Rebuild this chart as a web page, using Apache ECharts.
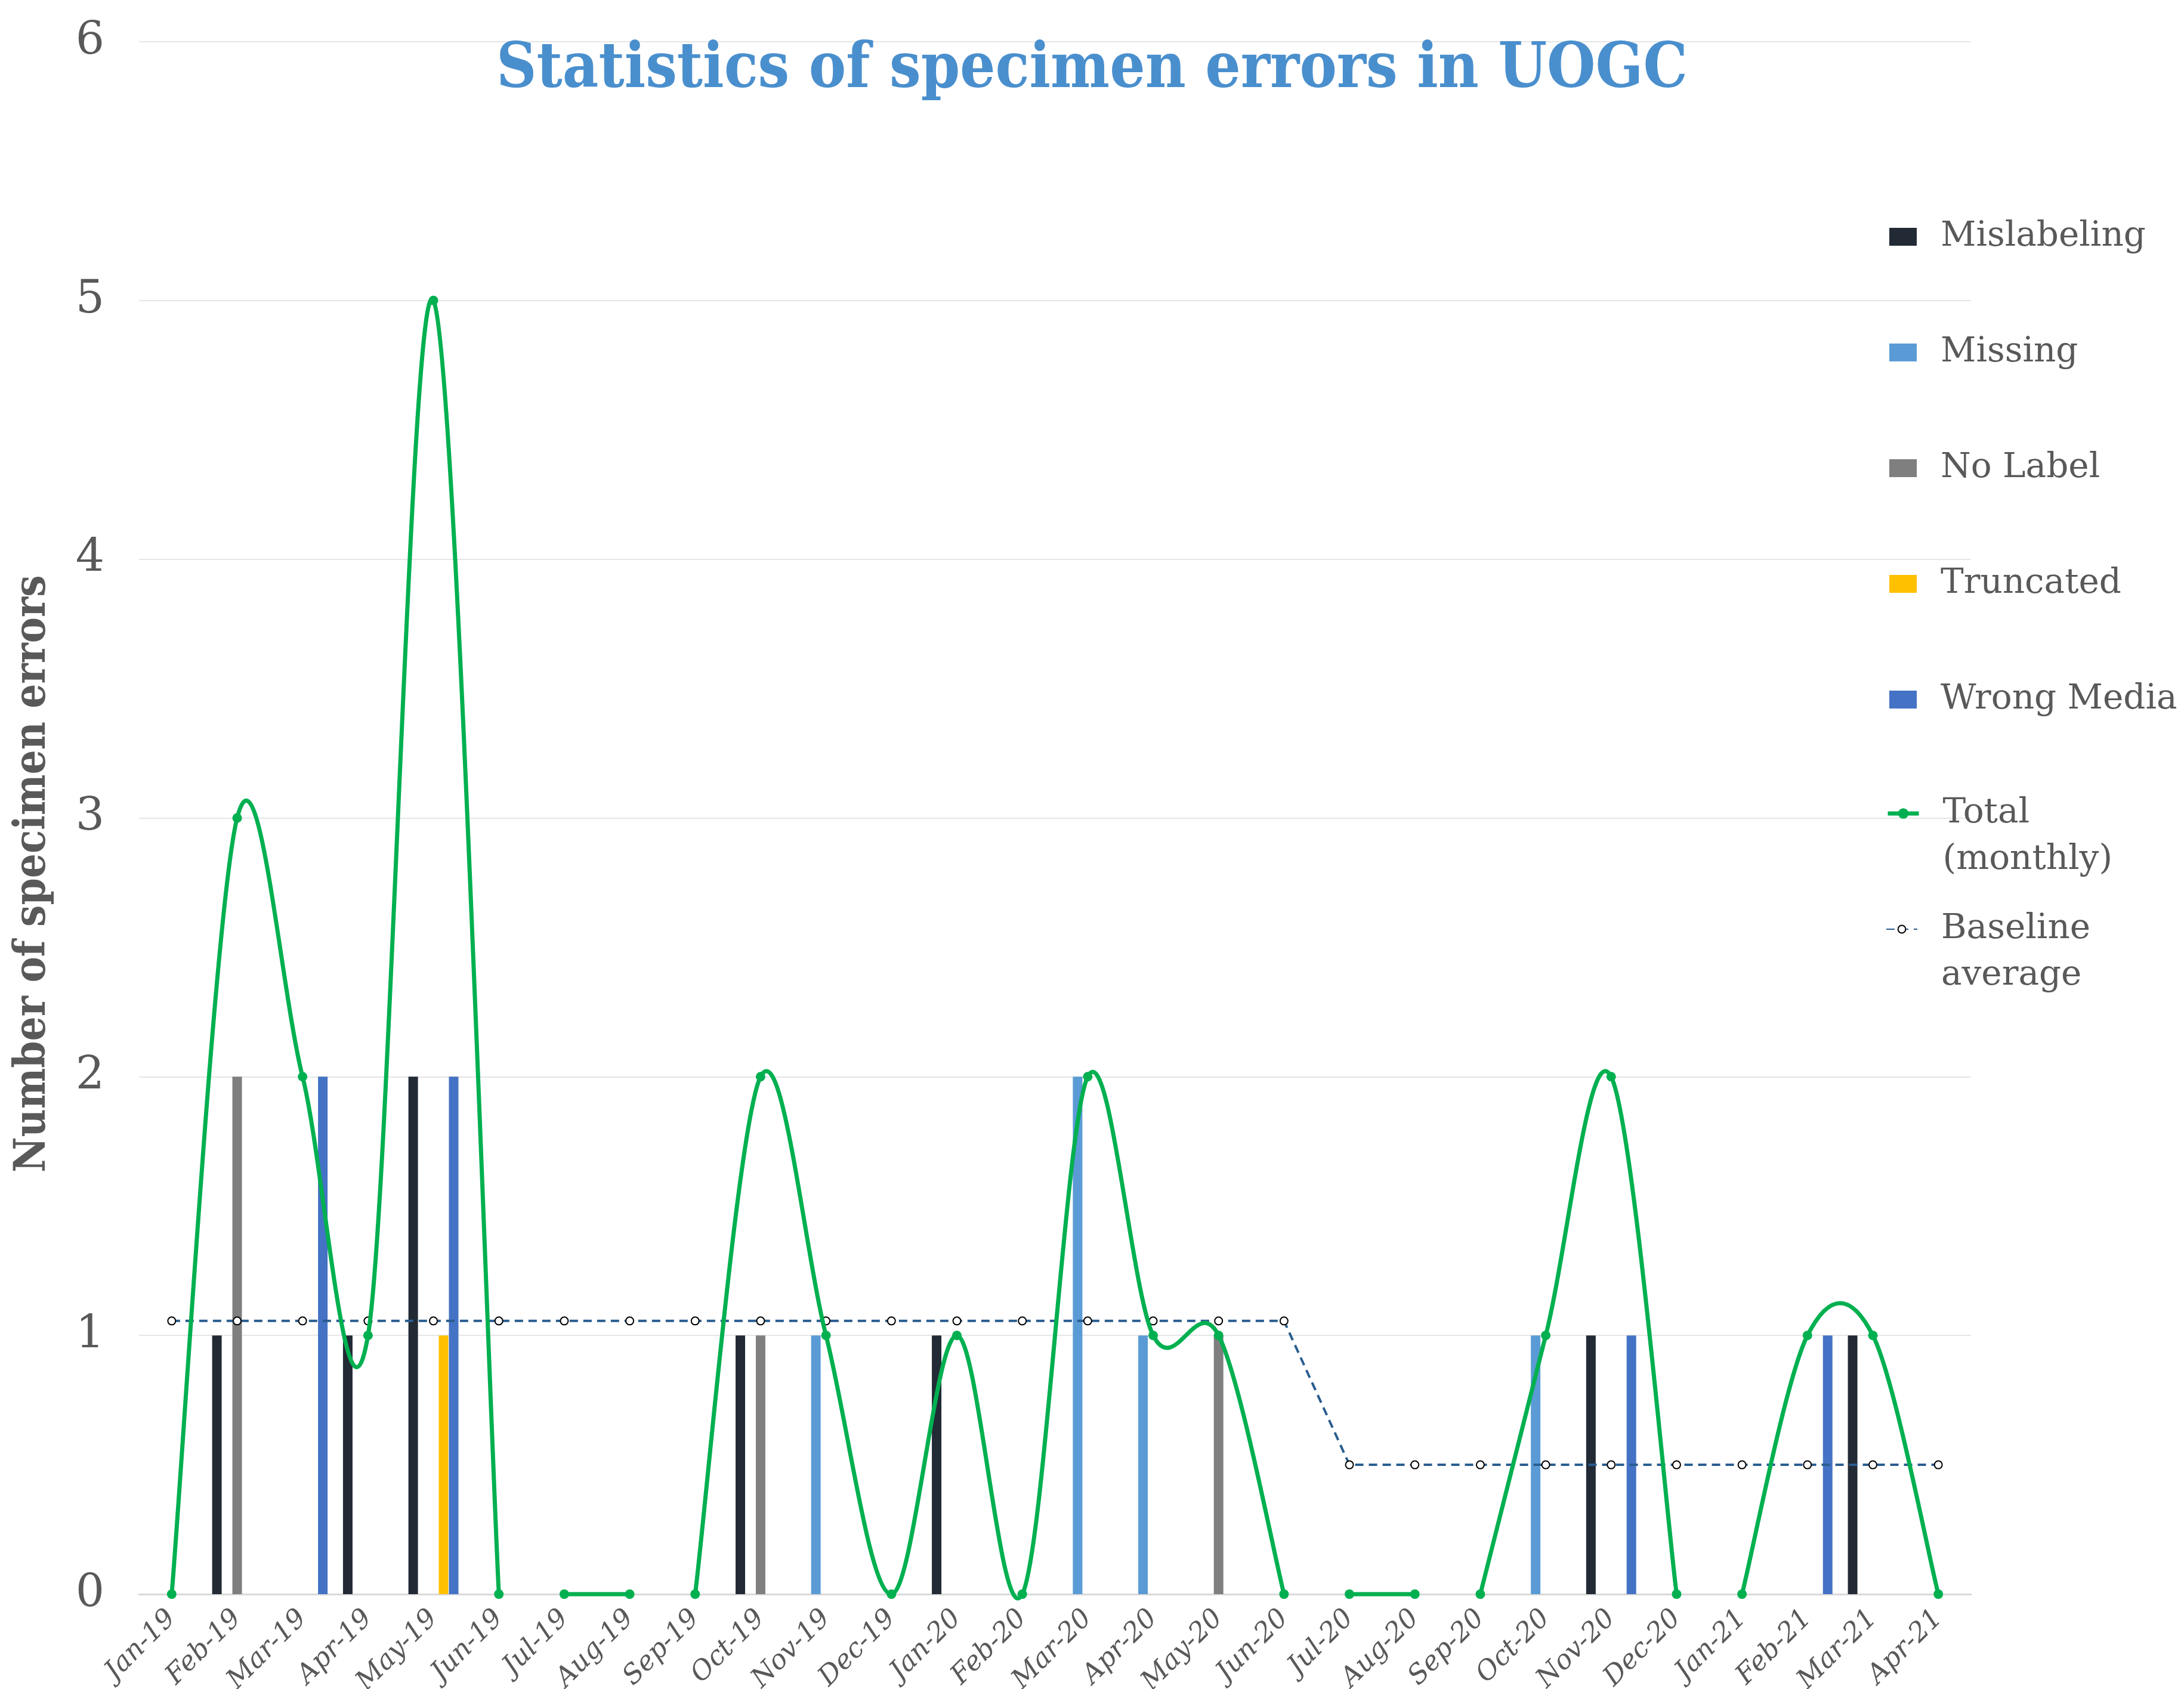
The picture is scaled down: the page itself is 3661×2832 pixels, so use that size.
<!DOCTYPE html>
<html>
<head>
<meta charset="utf-8">
<script src="https://cdn.jsdelivr.net/npm/echarts@6/dist/echarts.min.js"></script>
<style>
html,body{margin:0;padding:0;background:#fff;}
#chart{width:3661px;height:2832px;}
</style>
</head>
<body>
<div id="chart"></div>
<script>
const months = ['Jan-19','Feb-19','Mar-19','Apr-19','May-19','Jun-19','Jul-19','Aug-19','Sep-19','Oct-19','Nov-19','Dec-19',
  'Jan-20','Feb-20','Mar-20','Apr-20','May-20','Jun-20','Jul-20','Aug-20','Sep-20','Oct-20','Nov-20','Dec-20',
  'Jan-21','Feb-21','Mar-21','Apr-21'];
const mislabeling = [0,1,0,1,2,0,0,0,0,1,0,0,1,0,0,0,0,0,0,0,0,0,1,0,0,0,1,0];
const missing     = [0,0,0,0,0,0,0,0,0,0,1,0,0,0,2,1,0,0,0,0,0,1,0,0,0,0,0,0];
const noLabel     = [0,2,0,0,0,0,0,0,0,1,0,0,0,0,0,0,1,0,0,0,0,0,0,0,0,0,0,0];
const truncated   = [0,0,0,0,1,0,0,0,0,0,0,0,0,0,0,0,0,0,0,0,0,0,0,0,0,0,0,0];
const wrongMedia  = [0,0,2,0,2,0,0,0,0,0,0,0,0,0,0,0,0,0,0,0,0,0,1,0,0,1,0,0];
// Total (monthly), drawn in disconnected segments as in the reference
const totalSegA = [0,3,2,1,5,0,null,null,0,2,1,0,1,0,2,1,1,0,null,null,0,1,2,0,null,null,null,null];
const totalSegB = [null,null,null,null,null,null,0,0,null,null,null,null,null,null,null,null,null,null,0,0,null,null,null,null,0,1,1,0];
const totalMonthly = [0,3,2,1,5,0,0,0,0,2,1,0,1,0,2,1,1,0,0,0,0,1,2,0,0,1,1,0];
const baseline  = [1.056,1.056,1.056,1.056,1.056,1.056,1.056,1.056,1.056,1.056,1.056,1.056,1.056,1.056,1.056,1.056,1.056,1.056,
  0.5,0.5,0.5,0.5,0.5,0.5,0.5,0.5,0.5,0.5];
const yTicks = [0,1,2,3,4,5,6];

const serif = 'DejaVu Serif';
const gray = '#595959';
const green = '#00b050';
const chart = echarts.init(document.getElementById('chart'), null, {renderer:'canvas'});

function barSeries(name, data, color){
  return {name, type:'bar', data, barWidth:16, barGap:'6%', itemStyle:{color}, z:2};
}
// Smoothed curve (Catmull-Rom style, like a spreadsheet's smoothed line) through the library's coordinate system
function curveSeries(vals){
  return {
    type:'custom', name:'Total curve', z:5, silent:true, clip:false,
    data: vals.map((v,i)=>[i, v==null ? 0 : v]),
    encode:{x:0, y:1},
    renderItem(params, api){
      const i = params.dataIndex;
      if (i+1 >= vals.length || vals[i]==null || vals[i+1]==null) return null;
      const hasPrev = i>0 && vals[i-1]!=null;
      const hasNext = i+2<vals.length && vals[i+2]!=null;
      const p1 = api.coord([i, vals[i]]);
      const p2 = api.coord([i+1, vals[i+1]]);
      const p0 = hasPrev ? api.coord([i-1, vals[i-1]]) : p1;
      const p3 = hasNext ? api.coord([i+2, vals[i+2]]) : p2;
      return {
        type:'bezierCurve',
        shape:{x1:p1[0], y1:p1[1], x2:p2[0], y2:p2[1],
          cpx1:p1[0]+(p2[0]-p0[0])/6, cpy1:p1[1]+(p2[1]-p0[1])/6,
          cpx2:p2[0]-(p3[0]-p1[0])/6, cpy2:p2[1]-(p3[1]-p1[1])/6},
        style:{stroke:green, lineWidth:7, fill:'none', lineCap:'round'}
      };
    }
  };
}
const legendText = {fontFamily:serif, fontSize:58, color:gray, padding:[0,0,0,35], lineHeight:78};
chart.setOption({
  backgroundColor:'#ffffff',
  animation:false,
  title:{
    text:'Statistics of specimen errors in UOGC', left:'center', top:62,
    textStyle:{fontFamily:'DejaVu Serif Condensed', fontWeight:'bold', fontSize:104, color:'#4a8fcd'}
  },
  legend:[
    {orient:'vertical', left:3162, top:353, itemWidth:46, itemHeight:30, itemGap:116, selectedMode:false,
      icon:'rect', textStyle:legendText,
      data:['Mislabeling','Missing','No Label','Truncated','Wrong Media']},
    {orient:'vertical', left:3156, top:1242, itemWidth:52, itemHeight:22, selectedMode:false,
      textStyle:legendText, formatter:'\u00a0\nTotal\n(monthly)',
      data:[{name:'Total (monthly)', lineStyle:{color:green, width:7, opacity:1}}]},
    {orient:'vertical', left:3156, top:1436, itemWidth:52, itemHeight:16, selectedMode:false,
      textStyle:legendText, formatter:'\u00a0\nBaseline\naverage',
      data:['Baseline average']}
  ],
  grid:{left:233, right:357, top:70, bottom:159, containLabel:false, outerBoundsMode:'none'},
  xAxis:{
    type:'category', data:months, boundaryGap:true,
    axisLine:{lineStyle:{color:'#d9d9d9', width:3}},
    axisTick:{show:false},
    axisLabel:{rotate:45, margin:34, interval:0, fontFamily:serif, fontStyle:'italic', fontSize:45, color:gray}
  },
  yAxis:{
    type:'value', min:yTicks[0], max:yTicks[yTicks.length-1], interval:1,
    axisLine:{show:false}, axisTick:{show:false},
    axisLabel:{fontFamily:serif, fontSize:76, color:gray, margin:58},
    splitLine:{lineStyle:{color:'#e6e6e6', width:2}}
  },
  graphic:[{
    type:'text', x:56, y:1465, rotation:Math.PI/2, silent:true,
    style:{text:'Number of specimen errors', fontFamily:'DejaVu Serif Condensed', fontWeight:'bold',
      fontSize:72, fill:gray, align:'center', verticalAlign:'middle'}
  }],
  series:[
    barSeries('Mislabeling', mislabeling, '#222a35'),
    barSeries('Missing', missing, '#5b9bd5'),
    barSeries('No Label', noLabel, '#7f7f7f'),
    barSeries('Truncated', truncated, '#ffc000'),
    barSeries('Wrong Media', wrongMedia, '#4472c4'),
    {name:'Baseline average', type:'line', data:baseline, z:4,
      lineStyle:{color:'#2a5d90', width:4, type:[14,9]},
      symbol:'emptyCircle', symbolSize:13, itemStyle:{color:'#000000', borderColor:'#000000', borderWidth:4}},
    curveSeries(totalSegA),
    curveSeries(totalSegB),
    {name:'Total (monthly)', type:'line', data:totalMonthly, z:6,
      lineStyle:{color:'rgba(0,0,0,0)', width:7},
      symbol:'circle', symbolSize:16, itemStyle:{color:green}}
  ]
});
</script>
</body>
</html>
